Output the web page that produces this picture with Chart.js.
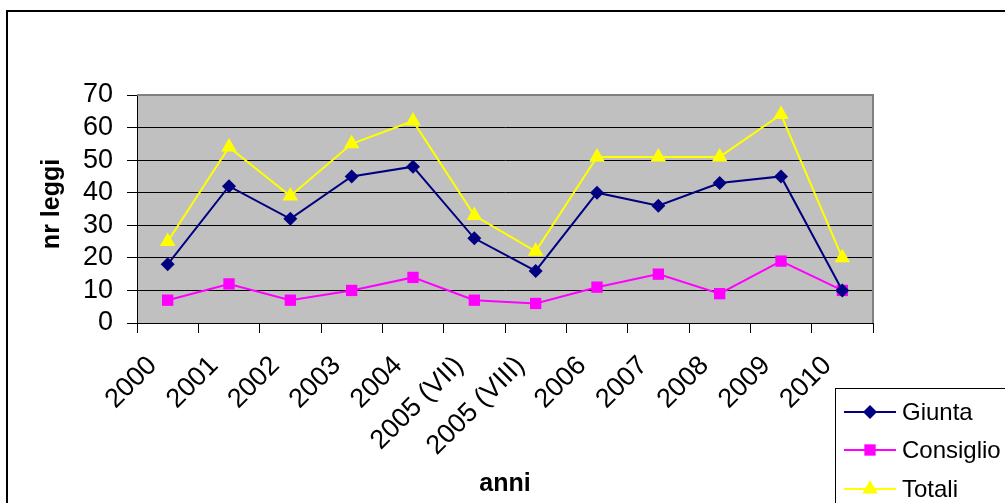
<!DOCTYPE html>
<html>
<head>
<meta charset="utf-8">
<script src="https://cdn.jsdelivr.net/npm/chart.js@4/dist/chart.umd.min.js"></script>
<style>
    html, body { margin: 0; padding: 0; background: #fff; }
    #wrap { position: relative; width: 1005px; height: 503px; overflow: hidden; }
</style>
</head>
<body>
<div id="wrap"><canvas id="leggiChart" width="1005" height="503"></canvas></div>
<script>
// Dati
const anni = ['2000', '2001', '2002', '2003', '2004', '2005 (VII)', '2005 (VIII)', '2006', '2007', '2008', '2009', '2010'];
const giunta = [18, 42, 32, 45, 48, 26, 16, 40, 36, 43, 45, 10];
const consiglio = [7, 12, 7, 10, 14, 7, 6, 11, 15, 9, 19, 10];
const totali = [25, 54, 39, 55, 62, 33, 22, 51, 51, 51, 64, 20];

const FONT = 'Liberation Sans, Arial, sans-serif';

// sfondo grigio dell'area del grafico + bordo superiore/destro
const plotArea = {
    id: 'plotArea',
    beforeDraw(chart) {
        const { ctx, chartArea: a } = chart;
        ctx.save();
        ctx.fillStyle = '#c0c0c0';
        ctx.fillRect(a.left, a.top, a.right - a.left, a.bottom - a.top);
        ctx.restore();
    },
    afterDatasetsDraw(chart) {
        const { ctx, chartArea: a } = chart;
        ctx.save();
        ctx.strokeStyle = '#808080';
        ctx.lineWidth = 2;
        ctx.beginPath();
        ctx.moveTo(a.left, a.top);
        ctx.lineTo(a.right, a.top);
        ctx.lineTo(a.right, a.bottom);
        ctx.stroke();
        ctx.restore();
    }
};

// cornice esterna, titolo asse y e legenda in stile Excel
const excelLegend = {
    id: 'excelLegend',
    afterDraw(chart) {
        const ctx = chart.ctx;
        ctx.save();
        ctx.strokeStyle = '#000';
        ctx.lineWidth = 2;
        ctx.strokeRect(7, 11, 1200, 700);

        // titolo asse y
        ctx.save();
        ctx.translate(52, 204);
        ctx.rotate(-Math.PI / 2);
        ctx.fillStyle = '#000';
        ctx.font = 'bold 25px ' + FONT;
        ctx.textAlign = 'center';
        ctx.textBaseline = 'middle';
        ctx.fillText('nr leggi', 0, 0);
        ctx.restore();

        ctx.lineWidth = 1;
        ctx.strokeRect(835.5, 388.5, 400, 300);

        const rows = [412, 450, 489];
        chart.data.datasets.forEach((ds, i) => {
            const y = rows[i];
            ctx.strokeStyle = ds.borderColor;
            ctx.lineWidth = 2;
            ctx.beginPath();
            ctx.moveTo(844, y);
            ctx.lineTo(896, y);
            ctx.stroke();
            ctx.fillStyle = ds.pointBackgroundColor;
            Chart.helpers.drawPoint(ctx, {
                pointStyle: ds.pointStyle,
                radius: ds.pointRadius,
                borderWidth: 0,
                rotation: 0
            }, 870, y);
            ctx.fillStyle = '#000';
            ctx.font = '24px ' + FONT;
            ctx.textBaseline = 'middle';
            ctx.textAlign = 'left';
            ctx.fillText(ds.label, 902, y + 1);
        });
        ctx.restore();
    }
};

const ctx = document.getElementById('leggiChart').getContext('2d');
new Chart(ctx, {
    type: 'line',
    data: {
        labels: anni,
        datasets: [
            {
                label: 'Giunta',
                data: giunta,
                borderColor: '#000080',
                backgroundColor: '#000080',
                pointBackgroundColor: '#000080',
                pointBorderWidth: 0,
                pointStyle: 'rectRot',
                pointRadius: 7,
                borderWidth: 2
            },
            {
                label: 'Consiglio',
                data: consiglio,
                borderColor: '#ff00ff',
                backgroundColor: '#ff00ff',
                pointBackgroundColor: '#ff00ff',
                pointBorderWidth: 0,
                pointStyle: 'rect',
                pointRadius: 8,
                borderWidth: 2
            },
            {
                label: 'Totali',
                data: totali,
                borderColor: '#ffff00',
                backgroundColor: '#ffff00',
                pointBackgroundColor: '#ffff00',
                pointBorderWidth: 0,
                pointStyle: 'triangle',
                pointRadius: 9,
                borderWidth: 2
            }
        ]
    },
    options: {
        responsive: false,
        animation: false,
        devicePixelRatio: 1,
        layout: { padding: { top: 95, right: 132, left: 0, bottom: 0 } },
        plugins: {
            legend: { display: false },
            tooltip: { enabled: false }
        },
        scales: {
            x: {
                offset: true,
                grid: {
                    offset: true,
                    drawOnChartArea: false,
                    drawTicks: true,
                    tickLength: 10,
                    tickColor: '#000'
                },
                border: { color: '#000', width: 1 },
                ticks: {
                    color: '#000',
                    font: { family: FONT, size: 27 },
                    minRotation: 45,
                    maxRotation: 45,
                    padding: 17,
                    labelOffset: -15,
                    autoSkip: false
                },
                title: {
                    display: true,
                    text: 'anni',
                    color: '#000',
                    font: { family: FONT, size: 25, weight: 'bold' },
                    padding: { top: 0, bottom: 4 }
                },
                afterFit(scale) {
                    scale.height = 180;
                    scale.paddingLeft = 0;
                    scale.paddingRight = 0;
                }
            },
            y: {
                min: 0,
                max: 70,
                ticks: {
                    stepSize: 10,
                    autoSkip: false,
                    color: '#000',
                    font: { family: FONT, size: 27 },
                    padding: 14
                },
                grid: {
                    color: c => c.tick && c.tick.value === 70 ? '#808080' : '#000',
                    tickColor: '#000',
                    tickLength: 10,
                    lineWidth: 1
                },
                border: { color: '#000', width: 1 },
                afterFit(scale) {
                    scale.width = 137;
                    scale.paddingTop = 0;
                    scale.paddingBottom = 0;
                }
            }
        }
    },
    plugins: [plotArea, excelLegend]
});
</script>
</body>
</html>
